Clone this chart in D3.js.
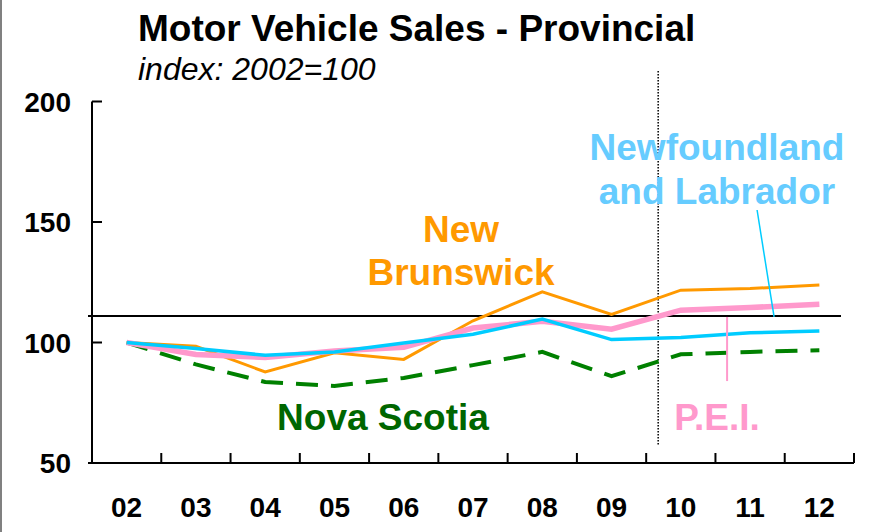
<!DOCTYPE html>
<html>
<head>
<meta charset="utf-8">
<script src="https://cdn.jsdelivr.net/npm/d3@7"></script>
<style>
  body { margin: 0; background: #fff; }
  svg { display: block; font-family: "Liberation Sans", Arial, sans-serif; }
</style>
</head>
<body>
<svg width="878" height="532"></svg>
<script>
// Index values, 2002 = 100.
var years = ["02", "03", "04", "05", "06", "07", "08", "09", "10", "11", "12"];
var newBrunswick = [100, 98.4, 87.8, 95.7, 93, 109, 121, 111.7, 121.7, 122.4, 123.9];
var pei = [100, 95, 93.8, 96.5, 98, 106, 108.8, 105.5, 113.4, 114.5, 115.9];
var newfoundland = [100, 97.5, 94.7, 96.1, 99.8, 103.4, 109.7, 101.2, 102.1, 104, 104.8];
var novaScotia = [100, 90.9, 83.6, 82, 85.3, 90.6, 96.1, 86, 95.1, 96.1, 96.8];
var yTicks = [50, 100, 150, 200];
var refLevel = 111;

var svg = d3.select("svg");

// grey frame edge on the left
svg.append("rect").attr("x", 0).attr("y", 0).attr("width", 2).attr("height", 532).attr("fill", "#808080");

// plot box (window.top is reserved, so prefix these)
var plotLeft = 92, plotRight = 854, plotTop = 101.5, plotBottom = 463;

var xBand = d3.scaleBand().domain(years).range([plotLeft, plotRight]);
var x = function(d) { return xBand(d) + xBand.bandwidth() / 2; };
var y = d3.scaleLinear().domain([50, 200]).range([plotBottom, plotTop]);

// Title
svg.append("text").attr("x", 138).attr("y", 41)
    .attr("font-size", 37).attr("font-weight", "bold").text("Motor Vehicle Sales - Provincial");
svg.append("text").attr("x", 138).attr("y", 80)
    .attr("font-size", 32).attr("font-style", "italic").text("index: 2002=100");

// Axes
var axes = svg.append("g").attr("stroke", "#000").attr("stroke-width", 2);
axes.append("line").attr("x1", plotLeft).attr("x2", plotLeft).attr("y1", plotTop).attr("y2", plotBottom);
axes.append("line").attr("x1", plotLeft - 4).attr("x2", plotRight).attr("y1", plotBottom).attr("y2", plotBottom);

yTicks.forEach(function(v) {
    axes.append("line").attr("x1", plotLeft).attr("x2", plotLeft + 10).attr("y1", y(v)).attr("y2", y(v));
    svg.append("text").attr("x", 71).attr("y", y(v) + 10)
        .attr("text-anchor", "end").attr("font-size", 28).attr("font-weight", "bold").text(v);
});

years.forEach(function(d) {
    var tx = xBand(d) + xBand.step();
    axes.append("line").attr("x1", tx).attr("x2", tx).attr("y1", plotBottom).attr("y2", plotBottom - 10);
    svg.append("text").attr("x", x(d)).attr("y", 517)
        .attr("text-anchor", "middle").attr("font-size", 28).attr("font-weight", "bold").text(d);
});

// reference level and the dotted divider
svg.append("line").attr("x1", 88).attr("x2", 841).attr("y1", y(refLevel)).attr("y2", y(refLevel))
    .attr("stroke", "#000").attr("stroke-width", 2);
var divX = (x("09") + x("10")) / 2 + 12;
svg.append("line").attr("x1", divX).attr("x2", divX).attr("y1", 71).attr("y2", 445)
    .attr("stroke", "#000").attr("stroke-width", 1.5).attr("stroke-dasharray", "1.5,1.5");

// Series
var line = d3.line().x(function(d, i) { return x(years[i]); }).y(function(d) { return y(d); });

var series = [
    { values: novaScotia, color: "#008000", width: 4, dash: "22,13" },
    { values: newBrunswick, color: "#FF9900", width: 3, dash: null },
    { values: pei, color: "#FF99CC", width: 5.5, dash: null },
    { values: newfoundland, color: "#00CCFF", width: 3.5, dash: null }
];

series.forEach(function(s) {
    svg.append("path").datum(s.values)
        .attr("d", line)
        .attr("fill", "none")
        .attr("stroke", s.color)
        .attr("stroke-width", s.width)
        .attr("stroke-linejoin", "miter")
        .attr("stroke-dasharray", s.dash);
});

// Leader lines
svg.append("line").attr("x1", x("11") + 7).attr("x2", x("11") + 24)
    .attr("y1", 210).attr("y2", y(110.6))
    .attr("stroke", "#00CCFF").attr("stroke-width", 1.5);
svg.append("line").attr("x1", x("11") - 23).attr("x2", x("11") - 23)
    .attr("y1", y(110.6)).attr("y2", y(84))
    .attr("stroke", "#FF99CC").attr("stroke-width", 2);

// Series labels
function label(txt, lx, ly, color) {
    svg.append("text").attr("x", lx).attr("y", ly)
        .attr("text-anchor", "middle").attr("font-size", 37).attr("font-weight", "bold")
        .attr("fill", color).text(txt);
}
label("New", 461, 242, "#FF9900");
label("Brunswick", 461, 285, "#FF9900");
label("Nova Scotia", 383, 430, "#006600");
label("P.E.I.", 717, 430, "#FF99CC");
label("Newfoundland", 717, 160, "#66CCFF");
label("and Labrador", 717, 204, "#66CCFF");
</script>
</body>
</html>
